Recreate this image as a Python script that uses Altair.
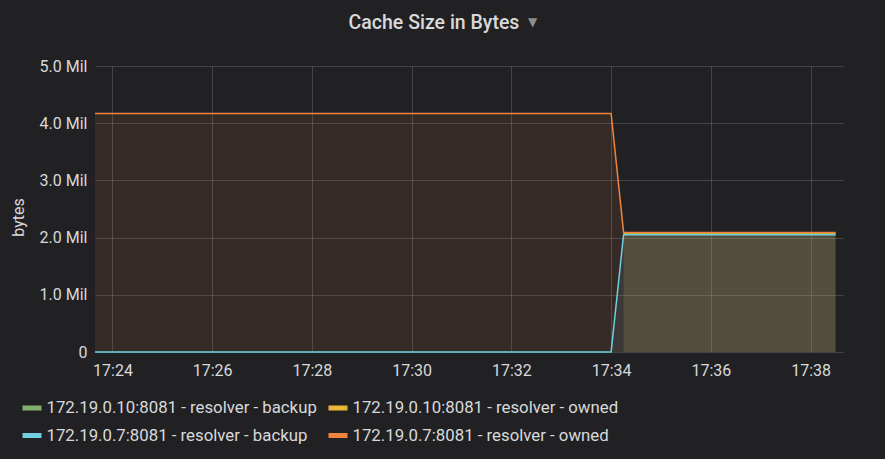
import altair as alt
import pandas as pd

# ---- data ----
series = [
    "172.19.0.10:8081 - resolver - backup",
    "172.19.0.10:8081 - resolver - owned",
    "172.19.0.7:8081 - resolver - backup",
    "172.19.0.7:8081 - resolver - owned",
]
colors = ["#7EB26D", "#EAB839", "#6ED0E0", "#EF843C"]

times_010 = ["17:34:15", "17:38:30"]
backup_010 = [2.065e6, 2.065e6]
owned_010 = [2.08e6, 2.08e6]

times_07 = ["17:23:39", "17:34:00", "17:34:15", "17:38:30"]
backup_07 = [0, 0, 2.05e6, 2.05e6]
owned_07 = [4.17e6, 4.17e6, 2.09e6, 2.09e6]

x_ticks = ["17:24", "17:26", "17:28", "17:30", "17:32", "17:34", "17:36", "17:38"]
y_ticks = [0, 1e6, 2e6, 3e6, 4e6, 5e6]
range_start = "17:23:39"
range_end = "17:38:39"
DAY = "2020-01-01"

TEXT = "#d8d9da"
BG = "#212124"
FONT = "Roboto"


def dt(s):
    parts = [int(p) for p in s.split(":")]
    while len(parts) < 3:
        parts.append(0)
    return alt.DateTime(year=2020, month=1, date=1, hours=parts[0],
                        minutes=parts[1], seconds=parts[2])


rows = []
for name, ts, vs in [
    (series[0], times_010, backup_010),
    (series[1], times_010, owned_010),
    (series[2], times_07, backup_07),
    (series[3], times_07, owned_07),
]:
    for t, v in zip(ts, vs):
        rows.append({"t": f"{DAY}T{t}", "v": v, "s": name, "o": series.index(name)})
df = pd.DataFrame(rows)

x_enc = alt.X(
    "t:T",
    scale=alt.Scale(domain=[dt(range_start), dt(range_end)], nice=False),
    axis=alt.Axis(
        values=[dt(t) for t in x_ticks], format="%H:%M", title=None,
        grid=True, ticks=False, domain=False, labelPadding=10,
        labelFontSize=16, labelColor=TEXT, labelFont=FONT,
        gridColor="#ffffff", gridOpacity=0.16,
    ),
)
y_enc = alt.Y(
    "v:Q", stack=None,
    scale=alt.Scale(domain=[0, 5e6], nice=False),
    axis=alt.Axis(
        values=y_ticks,
        labelExpr="datum.value == 0 ? '0' : format(datum.value / 1000000, '.1f') + ' Mil'",
        title="bytes", titleFontSize=16, titleFont=FONT, titleColor=TEXT,
        titleFontWeight="normal", titleX=-76.5, titleY=151, titleAngle=270,
        titleBaseline="middle", titleAlign="center",
        grid=True, ticks=False, domain=False, labelPadding=8,
        labelFontSize=16, labelColor=TEXT, labelFont=FONT,
        gridColor="#ffffff", gridOpacity=0.16,
    ),
)
color_scale = alt.Scale(domain=series, range=colors)

base = alt.Chart(df)

area = base.mark_area(fillOpacity=0.1, line=False).encode(
    x=x_enc, y=y_enc,
    color=alt.Color("s:N", scale=color_scale, legend=None),
    detail="s:N",
)

line = base.mark_line(strokeWidth=1.5).encode(
    x=x_enc, y=y_enc,
    color=alt.Color(
        "s:N", scale=color_scale,
        legend=alt.Legend(
            title=None, orient="none", legendX=-75, legendY=330,
            direction="horizontal", columns=2, columnPadding=1,
            rowPadding=5.5, labelOffset=2.5, labelFontSize=16.8,
            labelFont=FONT, labelColor=TEXT, labelLimit=500,
            symbolType="stroke", symbolSize=360, symbolStrokeWidth=5,
            symbolOpacity=1, padding=0,
        ),
    ),
    order="o:Q",
)

caret = alt.Chart(pd.DataFrame({"g": ["\u25BC"]})).mark_text(
    fontSize=12, color="#8e8e8e", font="DejaVu Sans"
).encode(text="g:N", x=alt.value(437.5), y=alt.value(-44))

chart = alt.layer(area, line, caret).resolve_legend(color="independent").properties(
    width=748, height=286,
    title=alt.TitleParams(
        "Cache Size in Bytes", fontSize=19.5, fontWeight=500, font=FONT,
        color=TEXT, anchor="middle", dx=-35, offset=-26, baseline="middle",
        frame="group",
    ),
    autosize=alt.AutoSizeParams(type="none"),
    padding={"left": 95, "top": 66, "right": 42, "bottom": 107},
    background=BG,
).configure_view(stroke=None)

chart.save("out.html", embed_options={"renderer": "svg", "actions": False})
